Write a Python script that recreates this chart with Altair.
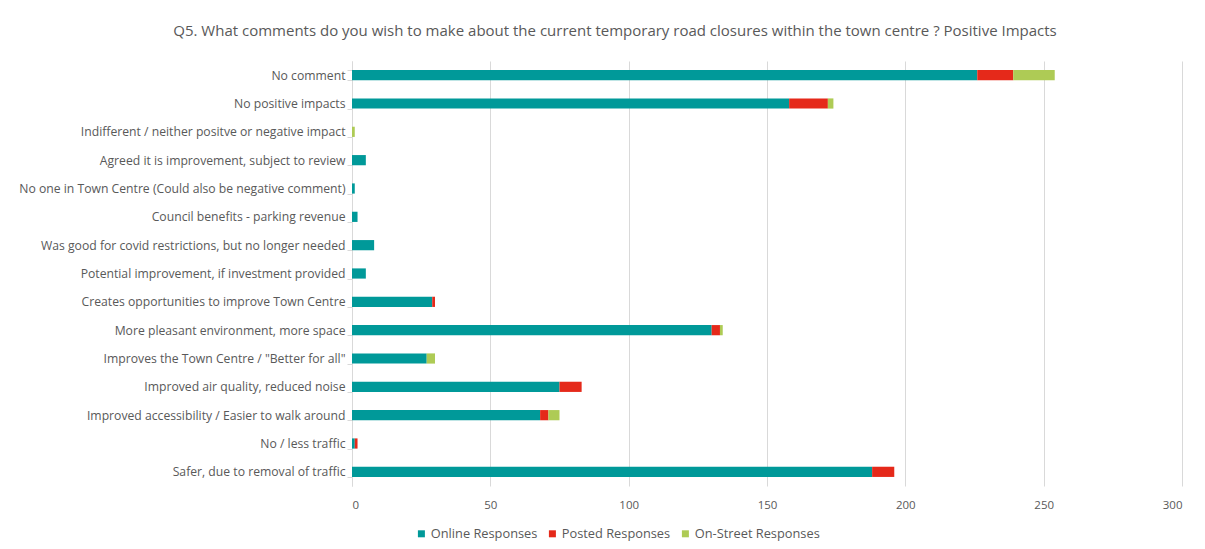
import altair as alt
import pandas as pd

categories = [
    "No comment ",
    "No positive impacts",
    "Indifferent / neither positve or negative impact",
    "Agreed it is improvement, subject to review",
    "No one in Town Centre (Could also be negative comment)",
    "Council benefits - parking revenue",
    "Was good for covid restrictions, but no longer needed",
    "Potential improvement, if investment provided",
    "Creates opportunities to improve Town Centre",
    "More pleasant environment, more space",
    "Improves the Town Centre / \"Better for all\"",
    "Improved air quality, reduced noise",
    "Improved accessibility / Easier to walk around",
    "No / less traffic",
    "Safer, due to removal of traffic",
]
online = [226, 158, 0, 5, 1, 2, 8, 5, 29, 130, 27, 75, 68, 1, 188]
posted = [13, 14, 0, 0, 0, 0, 0, 0, 1, 3, 0, 8, 3, 1, 8]
street = [15, 2, 1, 0, 0, 0, 0, 0, 0, 1, 3, 0, 4, 0, 0]

series_names = ["Online Responses", "Posted Responses", "On-Street Responses"]
series_colors = ["#009999", "#E5291A", "#AECB55"]
x_ticks = [0, 50, 100, 150, 200, 250, 300]

rows = []
for i, cat in enumerate(categories):
    for k, vals in enumerate([online, posted, street]):
        if vals[i] > 0:
            rows.append({"category": cat, "series": series_names[k], "value": vals[i], "order": k})
df = pd.DataFrame(rows)

FONT = "Open Sans"
GRAY = "#595959"

chart = alt.Chart(df).mark_bar().encode(
    x=alt.X(
        "value:Q",
        stack="zero",
        scale=alt.Scale(domain=[0, 300], nice=False),
        axis=alt.Axis(
            title=None, values=x_ticks, grid=True, gridColor="#D9D9D9", domain=False,
            ticks=False, labelPadding=13, labelFontSize=11.5, labelColor=GRAY, labelFont=FONT,
        ),
    ),
    y=alt.Y(
        "category:N",
        sort=categories,
        scale=alt.Scale(paddingInner=0.64, paddingOuter=0.32),
        axis=alt.Axis(
            title=None, domainColor="#D9D9D9", tickColor="#D9D9D9", tickSize=5,
            tickBand="extent", labelPadding=2, labelFontSize=12.2, labelColor=GRAY,
            labelFont=FONT, labelLimit=400, minExtent=334, maxExtent=334,
        ),
    ),
    color=alt.Color(
        "series:N",
        scale=alt.Scale(domain=series_names, range=series_colors),
        legend=alt.Legend(
            title=None, orient="none", direction="horizontal", legendX=63, legendY=466,
            symbolType="square", symbolSize=49, symbolStrokeWidth=0, labelFontSize=12.8,
            labelColor=GRAY, labelFont=FONT, columnPadding=8, labelOffset=3,
        ),
    ),
    order=alt.Order("order:Q"),
).properties(
    width=830,
    height=425,
    background="white",
    padding={"left": 10, "top": 16, "right": 15, "bottom": 0},
    title=alt.TitleParams(
        "Q5. What comments do you wish to make about the current temporary road closures within the town centre ? Positive Impacts",
        fontSize=15, font=FONT, color=GRAY, fontWeight="normal", anchor="middle",
        frame="bounds", offset=16, dx=15,
    ),
).configure_view(stroke=None)

chart.save("out.html", embed_options={"renderer": "svg", "actions": False})
